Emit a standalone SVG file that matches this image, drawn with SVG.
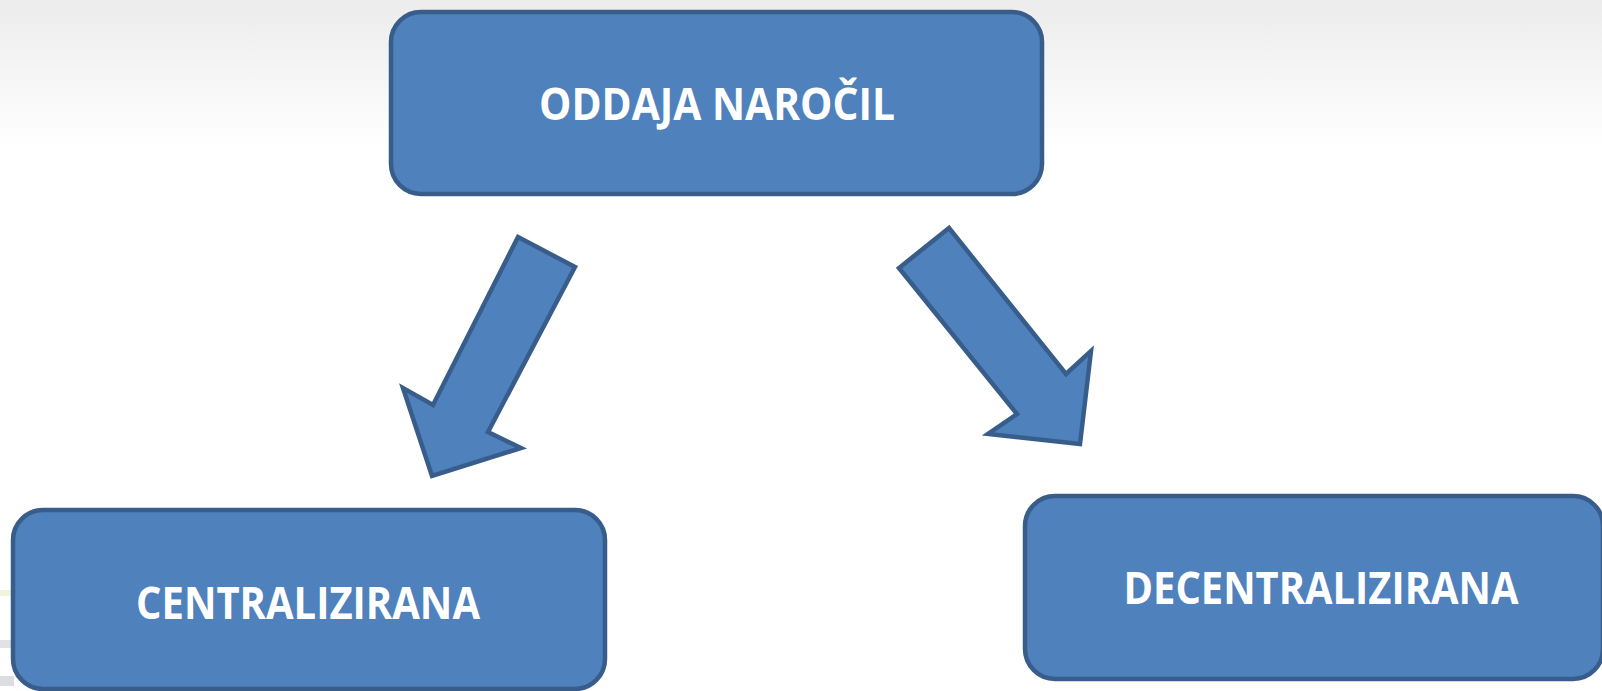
<svg xmlns="http://www.w3.org/2000/svg" width="1602" height="691" viewBox="0 0 1602 691">
<style>
.box{fill:#4F81BD;stroke:#385D8A;stroke-width:4.5}
.arrow{fill:#4F81BD;stroke:#385D8A;stroke-width:4.5;stroke-linejoin:miter}
.lbl{font-family:"Open Sans","Liberation Sans",sans-serif;font-weight:bold;font-size:44px;fill:#FFFFFF}
</style>
<defs>
<linearGradient id="bg" x1="0" y1="0" x2="0" y2="1">
<stop offset="0" stop-color="#ececec"/>
<stop offset="1" stop-color="#ffffff"/>
</linearGradient>
</defs>
<rect x="0" y="0" width="1602" height="691" fill="#ffffff"/>
<rect x="0" y="0" width="1602" height="150" fill="url(#bg)"/>
<g id="bg-marks">
<rect x="0" y="590" width="14" height="6" fill="#f1f3dc"/>
<rect x="0" y="640" width="14" height="8" fill="#e1e1e6"/>
<rect x="0" y="676" width="14" height="10" fill="#dcdce2"/>
</g>
<g id="connectors">
<polygon class="arrow" points="518,237 575,267 488,432 521,448 432,476 403,388 433,405"/>
<polygon class="arrow" points="949,228 899,268 1017,414 988,434 1080,444 1091,351 1066,374"/>
</g>
<g id="node-oddaja">
<rect class="box" x="391" y="12" width="651" height="182" rx="30" ry="30"/>
<text class="lbl" x="717" y="120" text-anchor="middle" textLength="356" lengthAdjust="spacingAndGlyphs">ODDAJA NAROČIL</text>
</g>
<g id="node-centralizirana">
<rect class="box" x="13" y="510" width="592" height="179" rx="30" ry="30"/>
<text class="lbl" x="308" y="619" text-anchor="middle" textLength="344" lengthAdjust="spacingAndGlyphs">CENTRALIZIRANA</text>
</g>
<g id="node-decentralizirana">
<rect class="box" x="1025" y="496" width="578" height="183" rx="30" ry="30"/>
<text class="lbl" x="1321" y="604" text-anchor="middle" textLength="395" lengthAdjust="spacingAndGlyphs">DECENTRALIZIRANA</text>
</g>
</svg>
